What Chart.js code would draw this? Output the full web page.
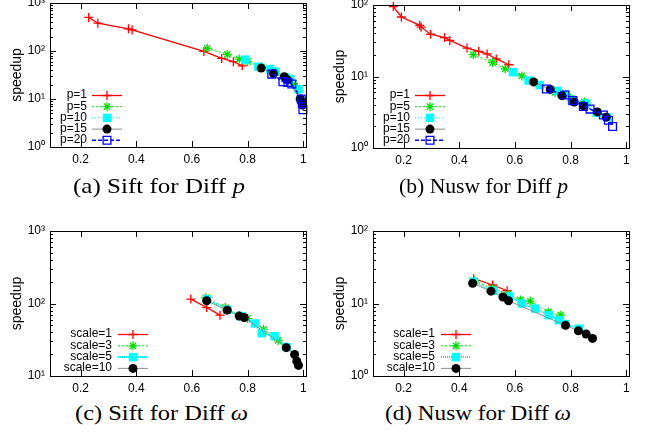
<!DOCTYPE html>
<html>
<head>
<meta charset="utf-8">
<script src="https://cdn.jsdelivr.net/npm/chart.js@4/dist/chart.umd.min.js"></script>
<style>
body{margin:0;background:#fff;width:646px;height:433px;position:relative;overflow:hidden}
canvas{position:absolute}
.cap{position:absolute;font-family:"Liberation Serif",serif;font-size:22px;line-height:22px;white-space:nowrap;transform-origin:0 0;color:#000}
</style>
</head>
<body>
<canvas id="pa" width="323" height="178" style="left:0;top:0"></canvas>
<canvas id="pb" width="323" height="178" style="left:323px;top:0"></canvas>
<canvas id="pc" width="323" height="178" style="left:0;top:218px"></canvas>
<canvas id="pd" width="323" height="178" style="left:323px;top:218px"></canvas>
<span class="cap" data-x0="73" data-x1="245" style="top:175px">(a) Sift for Diff <i>p</i></span>
<span class="cap" data-x0="399" data-x1="568" style="top:175px">(b) Nusw for Diff <i>p</i></span>
<span class="cap" data-x0="75" data-x1="248" style="top:402px">(c) Sift for Diff <i>ω</i></span>
<span class="cap" data-x0="385" data-x1="571" style="top:402px">(d) Nusw for Diff <i>ω</i></span>
<script>
// tick labels and legend names
var xTickVals = [0.2, 0.4, 0.6, 0.8, 1];
var xTickLabels = ['0.2', '0.4', '0.6', '0.8', '1'];
var pLabels = ['p=1', 'p=5', 'p=10', 'p=15', 'p=20'];
var scaleLabels = ['scale=1', 'scale=3', 'scale=5', 'scale=10'];

// (a) Sift, different p
var a_p1_x = [0.229, 0.262, 0.372, 0.385, 0.643, 0.707, 0.749, 0.781];
var a_p1_y = [500, 380, 290, 275, 98, 70, 60, 49];
var a_p5_x = [0.655, 0.727, 0.770, 0.80, 0.85, 0.90, 0.94, 0.965, 0.978, 0.99];
var a_p5_y = [114, 85, 68, 60, 46, 37, 28, 21, 17, 10];
var a_p10_x = [0.791, 0.839, 0.881, 0.899, 0.935, 0.953, 0.983, 0.995];
var a_p10_y = [66, 47, 42, 37, 28, 26, 16, 9];
var a_p15_x = [0.849, 0.893, 0.932, 0.943, 0.989, 0.995, 0.997];
var a_p15_y = [44, 34, 29, 25, 10, 8.5, 7.5];
var a_p20_x = [0.887, 0.927, 0.945, 0.959, 0.993, 0.997, 0.999];
var a_p20_y = [33, 23, 22, 20.5, 10, 8, 6];

// (b) Nusw, different p
var b_p1_x = [0.163, 0.192, 0.258, 0.263, 0.297, 0.347, 0.366, 0.428, 0.470, 0.500, 0.533, 0.578];
var b_p1_y = [95, 68, 52, 49, 39, 35, 32, 25, 22.5, 20.7, 17.6, 14.6];
var b_p5_x = [0.450, 0.520, 0.565, 0.625, 0.67, 0.744, 0.80, 0.85];
var b_p5_y = [20.2, 15.7, 12.8, 10.2, 8.4, 6.0, 5.0, 4.4];
var b_p10_x = [0.593, 0.649, 0.689, 0.753, 0.78, 0.805, 0.856, 0.894, 0.93];
var b_p10_y = [11.5, 8.8, 7.6, 6.3, 5.6, 4.7, 4.2, 3.1, 2.7];
var b_p15_x = [0.667, 0.727, 0.769, 0.813, 0.846, 0.896, 0.928];
var b_p15_y = [8.4, 6.6, 5.4, 4.4, 3.9, 3.2, 2.7];
var b_p20_x = [0.713, 0.78, 0.808, 0.846, 0.870, 0.918, 0.936, 0.951];
var b_p20_y = [6.7, 5.5, 4.6, 3.8, 3.5, 2.9, 2.45, 2.0];

// (c) Sift, different scale
var c_s1_x = [0.596, 0.653, 0.701];
var c_s1_y = [115, 88, 69];
var c_s3_x = [0.650, 0.72, 0.77, 0.80, 0.857, 0.91, 0.94];
var c_s3_y = [120, 88, 68, 62, 44, 31, 25];
var c_s5_x = [0.655, 0.727, 0.775, 0.827, 0.851, 0.897, 0.94];
var c_s5_y = [114, 82, 67, 53, 39, 35.5, 25];
var c_s10_x = [0.653, 0.727, 0.770, 0.788, 0.939, 0.969, 0.977, 0.983];
var c_s10_y = [109, 81, 67, 64, 24.6, 19.8, 16, 14];

// (d) Nusw, different scale
var d_s1_x = [0.452, 0.520, 0.572];
var d_s1_y = [22, 18, 15];
var d_s3_x = [0.455, 0.52, 0.575, 0.62, 0.655, 0.72, 0.765];
var d_s3_y = [20.5, 16, 13.5, 11.2, 10.8, 7.6, 6.9];
var d_s5_x = [0.452, 0.52, 0.58, 0.625, 0.673, 0.721, 0.757, 0.78, 0.83];
var d_s5_y = [20, 15, 12.5, 10, 8.5, 6.9, 5.9, 5.2, 4.5];
var d_s10_x = [0.448, 0.514, 0.557, 0.577, 0.782, 0.828, 0.856, 0.879];
var d_s10_y = [19, 14.8, 12.3, 10.9, 5.0, 4.2, 3.8, 3.3];

// gnuplot-ish line/point styles, one per series slot
var styles = [
  {line: '#ff0000', dash: [], lw: 1.3, point: 'cross', r: 4.5, fill: '#ff0000', stroke: '#ff0000', pw: 1.3},
  {line: '#00e000', dash: [2, 2], lw: 1, point: 'star', r: 4.5, fill: '#00dd00', stroke: '#00dd00', pw: 1.3},
  {line: '#00e8e8', dash: [1, 2], lw: 1, point: 'rect', r: 6, fill: '#00ffff', stroke: '#00ffff', pw: 0},
  {line: '#909090', dash: [], lw: 1, point: 'circle', r: 4.5, fill: '#000000', stroke: '#000000', pw: 0},
  {line: '#0000ff', dash: [4, 2], lw: 1.4, point: 'rect', r: 5.5, fill: 'rgba(0,0,0,0)', stroke: '#0000ff', pw: 1.3}
];
var scaleStyles = [styles[0], styles[1], {line: '#00e8e8', dash: [1, 1], lw: 2, point: 'rect', r: 6, fill: '#00ffff', stroke: '#00ffff', pw: 0}, styles[3]];

var sup = ['\u2070', '\u00b9', '\u00b2', '\u00b3'];

function pts(xs, ys) {
  return xs.map(function (x, i) { return {x: x, y: ys[i]}; });
}

// stretch each caption to the span it covers in the original
document.querySelectorAll('.cap').forEach(function (el) {
  var x0 = +el.dataset.x0, x1 = +el.dataset.x1;
  var w = el.getBoundingClientRect().width;
  el.style.left = x0 + 'px';
  el.style.transform = 'scaleX(' + ((x1 - x0) / w) + ')';
});

var gnuFrame = {
  id: 'gnuFrame',
  afterDatasetsDraw: function (chart, args, opts) {
    var ctx = chart.ctx, a = chart.chartArea, xs = chart.scales.x, ys = chart.scales.y;
    ctx.save();
    ctx.strokeStyle = '#000';
    ctx.lineWidth = 1;
    ctx.beginPath();
    // x major ticks, bottom and top, pointing inward
    xTickVals.forEach(function (v) {
      var px = Math.round(xs.getPixelForValue(v)) + 0.5;
      ctx.moveTo(px, a.bottom); ctx.lineTo(px, a.bottom - 6);
      ctx.moveTo(px, a.top); ctx.lineTo(px, a.top + 6);
    });
    // y log ticks
    var lo = Math.round(Math.log10(ys.min)), hi = Math.round(Math.log10(ys.max));
    for (var d = lo; d <= hi; d++) {
      for (var k = 1; k <= 9; k++) {
        var v = k * Math.pow(10, d);
        if (v > ys.max * 1.0001) break;
        var py = Math.round(ys.getPixelForValue(v)) + 0.5;
        var len = k === 1 ? 6 : 3;
        ctx.moveTo(a.left, py); ctx.lineTo(a.left + len, py);
        ctx.moveTo(a.right, py); ctx.lineTo(a.right - len, py);
      }
    }
    ctx.stroke();
    ctx.strokeRect(Math.round(a.left) + 0.5, Math.round(a.top) + 0.5, Math.round(a.right - a.left), Math.round(a.bottom - a.top));

    // key, gnuplot style: label then sample
    var lg = opts;
    ctx.font = '12px "Liberation Sans", Arial, sans-serif';
    ctx.textAlign = 'right';
    ctx.textBaseline = 'middle';
    chart.data.datasets.forEach(function (ds, i) {
      var y = lg.top + i * lg.step;
      ctx.fillStyle = '#000';
      ctx.fillText(ds.label, lg.right, y);
      ctx.save();
      ctx.strokeStyle = ds.borderColor;
      ctx.lineWidth = ds.borderWidth;
      ctx.setLineDash(ds.borderDash);
      ctx.beginPath();
      ctx.moveTo(lg.x0, y + 0.5); ctx.lineTo(lg.x1, y + 0.5);
      ctx.stroke();
      ctx.setLineDash([]);
      ctx.fillStyle = ds.pointBackgroundColor;
      ctx.strokeStyle = ds.pointBorderColor;
      ctx.lineWidth = ds.pointBorderWidth;
      Chart.helpers.drawPoint(ctx, {pointStyle: ds.pointStyle, radius: ds.pointRadius, borderWidth: ds.pointBorderWidth, rotation: 0}, (lg.x0 + lg.x1) / 2, y + 0.5);
      ctx.restore();
    });
    ctx.restore();
  }
};

function makeChart(id, series, labels, sty, yMin, yMax, area, key) {
  var cv = document.getElementById(id);
  var W = cv.width, H = cv.height;
  var datasets = series.map(function (s, i) {
    var st = sty[i];
    return {
      label: labels[i],
      data: s,
      showLine: true,
      order: -i,
      clip: false,
      borderColor: st.line,
      borderWidth: st.lw,
      borderDash: st.dash,
      pointStyle: st.point,
      pointRadius: st.r,
      pointHoverRadius: st.r,
      pointBackgroundColor: st.fill,
      pointBorderColor: st.stroke,
      pointBorderWidth: st.pw
    };
  });
  return new Chart(cv, {
    type: 'scatter',
    data: {datasets: datasets},
    options: {
      responsive: false,
      animation: false,
      events: [],
      layout: {autoPadding: false, padding: {left: 0, top: area.top, right: W - area.right, bottom: 0}},
      plugins: {legend: {display: false}, tooltip: {enabled: false}, gnuFrame: key},
      scales: {
        x: {
          type: 'linear', min: 0.09, max: 1.01,
          grid: {display: false, drawTicks: false},
          border: {display: false},
          afterBuildTicks: function (s) { s.ticks = xTickVals.map(function (v) { return {value: v}; }); },
          afterFit: function (s) { s.height = H - area.bottom; s.paddingLeft = 0; s.paddingRight = 0; },
          ticks: {
            padding: 5, color: '#000', maxRotation: 0, autoSkip: false,
            font: {family: '"Liberation Sans", Arial, sans-serif', size: 12},
            callback: function (v, i) { return xTickLabels[i]; }
          }
        },
        y: {
          type: 'logarithmic', min: yMin, max: yMax,
          grid: {display: false, drawTicks: false},
          border: {display: false},
          afterBuildTicks: function (s) {
            var t = [];
            for (var v = yMin; v <= yMax * 1.0001; v *= 10) t.push({value: v});
            s.ticks = t;
          },
          afterFit: function (s) { s.width = area.left; s.paddingTop = 0; s.paddingBottom = 0; },
          title: {display: true, text: 'speedup', color: '#000', padding: {top: 9, bottom: 0},
            font: {family: '"Liberation Sans", Arial, sans-serif', size: 14}},
          ticks: {
            padding: 5, color: '#000', autoSkip: false,
            font: {family: '"Liberation Sans", Arial, sans-serif', size: 12},
            callback: function (v) { return '10' + sup[Math.round(Math.log10(v))]; }
          }
        }
      }
    },
    plugins: [gnuFrame]
  });
}

var keyP = {right: 87, top: 95, step: 11.2, x0: 92, x1: 122};
var keyS = {right: 112, top: 116, step: 11.3, x0: 118, x1: 148};

makeChart('pa', [pts(a_p1_x, a_p1_y), pts(a_p5_x, a_p5_y), pts(a_p10_x, a_p10_y), pts(a_p15_x, a_p15_y), pts(a_p20_x, a_p20_y)],
  pLabels, styles, 1, 1000, {left: 50, top: 3, right: 306, bottom: 147}, keyP);
makeChart('pb', [pts(b_p1_x, b_p1_y), pts(b_p5_x, b_p5_y), pts(b_p10_x, b_p10_y), pts(b_p15_x, b_p15_y), pts(b_p20_x, b_p20_y)],
  pLabels, styles, 1, 100, {left: 50, top: 5, right: 306, bottom: 148}, keyP);
makeChart('pc', [pts(c_s1_x, c_s1_y), pts(c_s3_x, c_s3_y), pts(c_s5_x, c_s5_y), pts(c_s10_x, c_s10_y)],
  scaleLabels, scaleStyles, 10, 1000, {left: 50, top: 13, right: 306, bottom: 158}, keyS);
makeChart('pd', [pts(d_s1_x, d_s1_y), pts(d_s3_x, d_s3_y), pts(d_s5_x, d_s5_y), pts(d_s10_x, d_s10_y)],
  scaleLabels, scaleStyles, 1, 100, {left: 50, top: 13, right: 306, bottom: 158}, keyS);
</script>
</body>
</html>
